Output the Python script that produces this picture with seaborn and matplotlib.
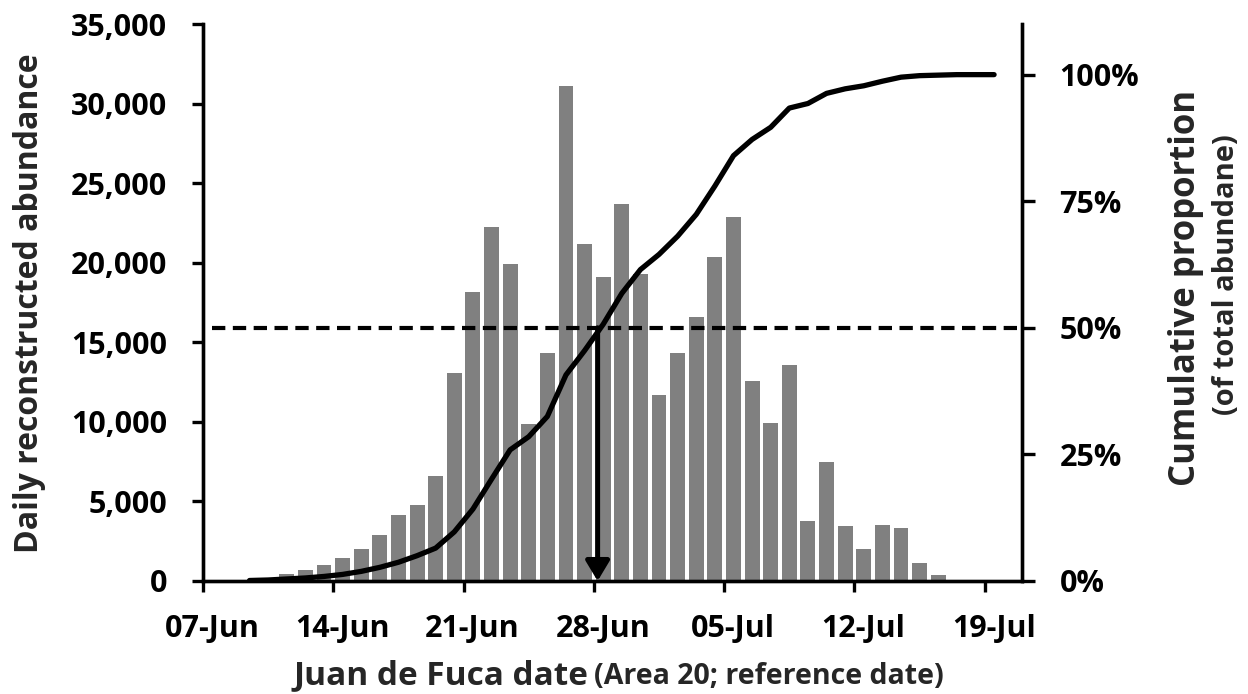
import matplotlib
matplotlib.use("Agg")
import matplotlib.pyplot as plt
import matplotlib.transforms as mtransforms
from matplotlib.ticker import FuncFormatter
import numpy as np
import pandas as pd
import seaborn as sns

# ---------------- data ----------------
axis_start = "07-Jun"
bar_dates = ["11-Jun", "12-Jun", "13-Jun", "14-Jun", "15-Jun", "16-Jun", "17-Jun",
             "18-Jun", "19-Jun", "20-Jun", "21-Jun", "22-Jun", "23-Jun", "24-Jun",
             "25-Jun", "26-Jun", "27-Jun", "28-Jun", "29-Jun", "30-Jun", "01-Jul",
             "02-Jul", "03-Jul", "04-Jul", "05-Jul", "06-Jul", "07-Jul", "08-Jul",
             "09-Jul", "10-Jul", "11-Jul", "12-Jul", "13-Jul", "14-Jul", "15-Jul",
             "16-Jul"]
abundance = [420, 720, 1030, 1450, 2030, 2920, 4150, 4760, 6580, 13070, 18130,
             22240, 19900, 9890, 14330, 31120, 21160, 19090, 23680, 19320, 11690,
             14330, 16570, 20390, 22890, 12580, 9940, 13560, 3760, 7490, 3430,
             2030, 3520, 3310, 1100, 350]

line_dates = ["09-Jun", "10-Jun", "11-Jun", "12-Jun", "13-Jun", "14-Jun", "15-Jun",
              "16-Jun", "17-Jun", "18-Jun", "19-Jun", "20-Jun", "21-Jun", "22-Jun",
              "23-Jun", "24-Jun", "25-Jun", "26-Jun", "27-Jun", "28-Jun", "29-Jun",
              "30-Jun", "01-Jul", "02-Jul", "03-Jul", "04-Jul", "05-Jul", "06-Jul",
              "07-Jul", "08-Jul", "09-Jul", "10-Jul", "11-Jul", "12-Jul", "13-Jul",
              "14-Jul", "15-Jul", "16-Jul", "17-Jul", "18-Jul", "19-Jul"]
cum_pct = [0.1, 0.2, 0.4, 0.6, 0.9, 1.3, 1.9, 2.7, 3.7, 5.0, 6.5, 9.7, 14.2, 20.1,
           25.9, 28.5, 32.5, 40.7, 45.5, 50.7, 56.8, 61.5, 64.5, 68.1, 72.4, 78.0,
           84.0, 87.2, 89.6, 93.4, 94.3, 96.3, 97.2, 97.8, 98.7, 99.5, 99.8, 99.9,
           100.0, 100.0, 100.0]

median_date = "28-Jun"
median_level = 50  # percent
tick_dates = ["07-Jun", "14-Jun", "21-Jun", "28-Jun", "05-Jul", "12-Jul", "19-Jul"]
left_ticks = [0, 5000, 10000, 15000, 20000, 25000, 30000, 35000]
right_ticks = [0, 25, 50, 75, 100]


def day_num(s):
    d = pd.to_datetime(s, format="%d-%b")
    d0 = pd.to_datetime(axis_start, format="%d-%b")
    return (d - d0).days


bar_df = pd.DataFrame({"x": [day_num(d) + 0.5 for d in bar_dates], "y": abundance})
line_df = pd.DataFrame({"x": [day_num(d) + 0.5 for d in line_dates],
                        "y": [v / 100 for v in cum_pct]})

# ---------------- style ----------------
sns.set_theme(style="white")
plt.rcParams["font.family"] = ["Open Sans", "DejaVu Sans"]
plt.rcParams["font.weight"] = "bold"

W, H = 1248, 694
fig = plt.figure(figsize=(W / 100, H / 100), dpi=100)
L, R, T, B = 203, 1022, 24, 581
ax = fig.add_axes([L / W, 1 - B / H, (R - L) / W, (B - T) / H])

sns.barplot(data=bar_df, x="x", y="y", native_scale=True, color="#808080",
            saturation=1, width=0.8, linewidth=0, ax=ax)

ax.set_xlim(0, 44)
ax.set_ylim(0, 35000)
ax.set_yticks(left_ticks)
ax.yaxis.set_major_formatter(FuncFormatter(lambda v, p: f"{int(v):,}"))
ax.set_xticks([day_num(d) for d in tick_dates])
ax.set_xticklabels(tick_dates)
ax.set_xlabel("")
ax.set_ylabel("")

ax2 = ax.twinx()
sns.lineplot(data=line_df, x="x", y="y", color="black", lw=3.8, ax=ax2,
             solid_capstyle="round", solid_joinstyle="round")
ax2.set_ylim(0, 1.1)
ax2.set_yticks([v / 100 for v in right_ticks])
ax2.set_yticklabels([f"{v}%" for v in right_ticks])
ax2.set_ylabel("")
ax2.set_xlim(0, 44)

# 50% dashed reference line
ax2.plot([0.5, 44], [median_level / 100] * 2, color="black", lw=3.0,
         dashes=(3.2, 1.8), solid_capstyle="butt")
# median arrow
mx = day_num(median_date) + 0.2
ax2.annotate("", xy=(mx, 0), xytext=(mx, median_level / 100),
             arrowprops=dict(arrowstyle="-|>,head_length=1.0,head_width=0.6",
                             color="black", lw=3.6, shrinkA=0, shrinkB=0))

for a in (ax, ax2):
    for s in a.spines.values():
        s.set_linewidth(2.4)
        s.set_color("black")
    a.spines["top"].set_visible(False)

ax.tick_params(axis="both", which="major", direction="out", length=8, width=2.4,
               colors="black", labelsize=22)
ax.tick_params(axis="y", pad=18, left=True)
ax.tick_params(axis="x", pad=16, bottom=True)
ax2.tick_params(axis="y", direction="out", length=9, width=2.4, labelsize=22,
                pad=18, right=True, colors="black")
for lab in ax.get_xticklabels() + ax.get_yticklabels() + ax2.get_yticklabels():
    lab.set_fontweight("bold")
off = mtransforms.ScaledTranslation(9 / 100, 0, fig.dpi_scale_trans)
for lab in ax.get_xticklabels():
    lab.set_transform(lab.get_transform() + off)

# axis titles
fig.text(30 / W, 1 - 303 / H, "Daily reconstructed abundance", rotation=90,
         ha="center", va="center", fontsize=23, fontweight="bold")
fig.text(588 / W, 1 - 684 / H, "Juan de Fuca date", ha="right", va="baseline",
         fontsize=24, fontweight="bold")
fig.text(594 / W, 1 - 684 / H, "(Area 20; reference date)", ha="left",
         va="baseline", fontsize=20.5, fontweight="bold")
fig.text(1186 / W, 1 - 288 / H, "Cumulative proportion", rotation=90,
         ha="center", va="center", fontsize=25, fontweight="bold")
fig.text(1226 / W, 1 - 275 / H, "(of total abundane)", rotation=90,
         ha="center", va="center", fontsize=21, fontweight="bold")

fig.savefig("out.png", dpi=100)
